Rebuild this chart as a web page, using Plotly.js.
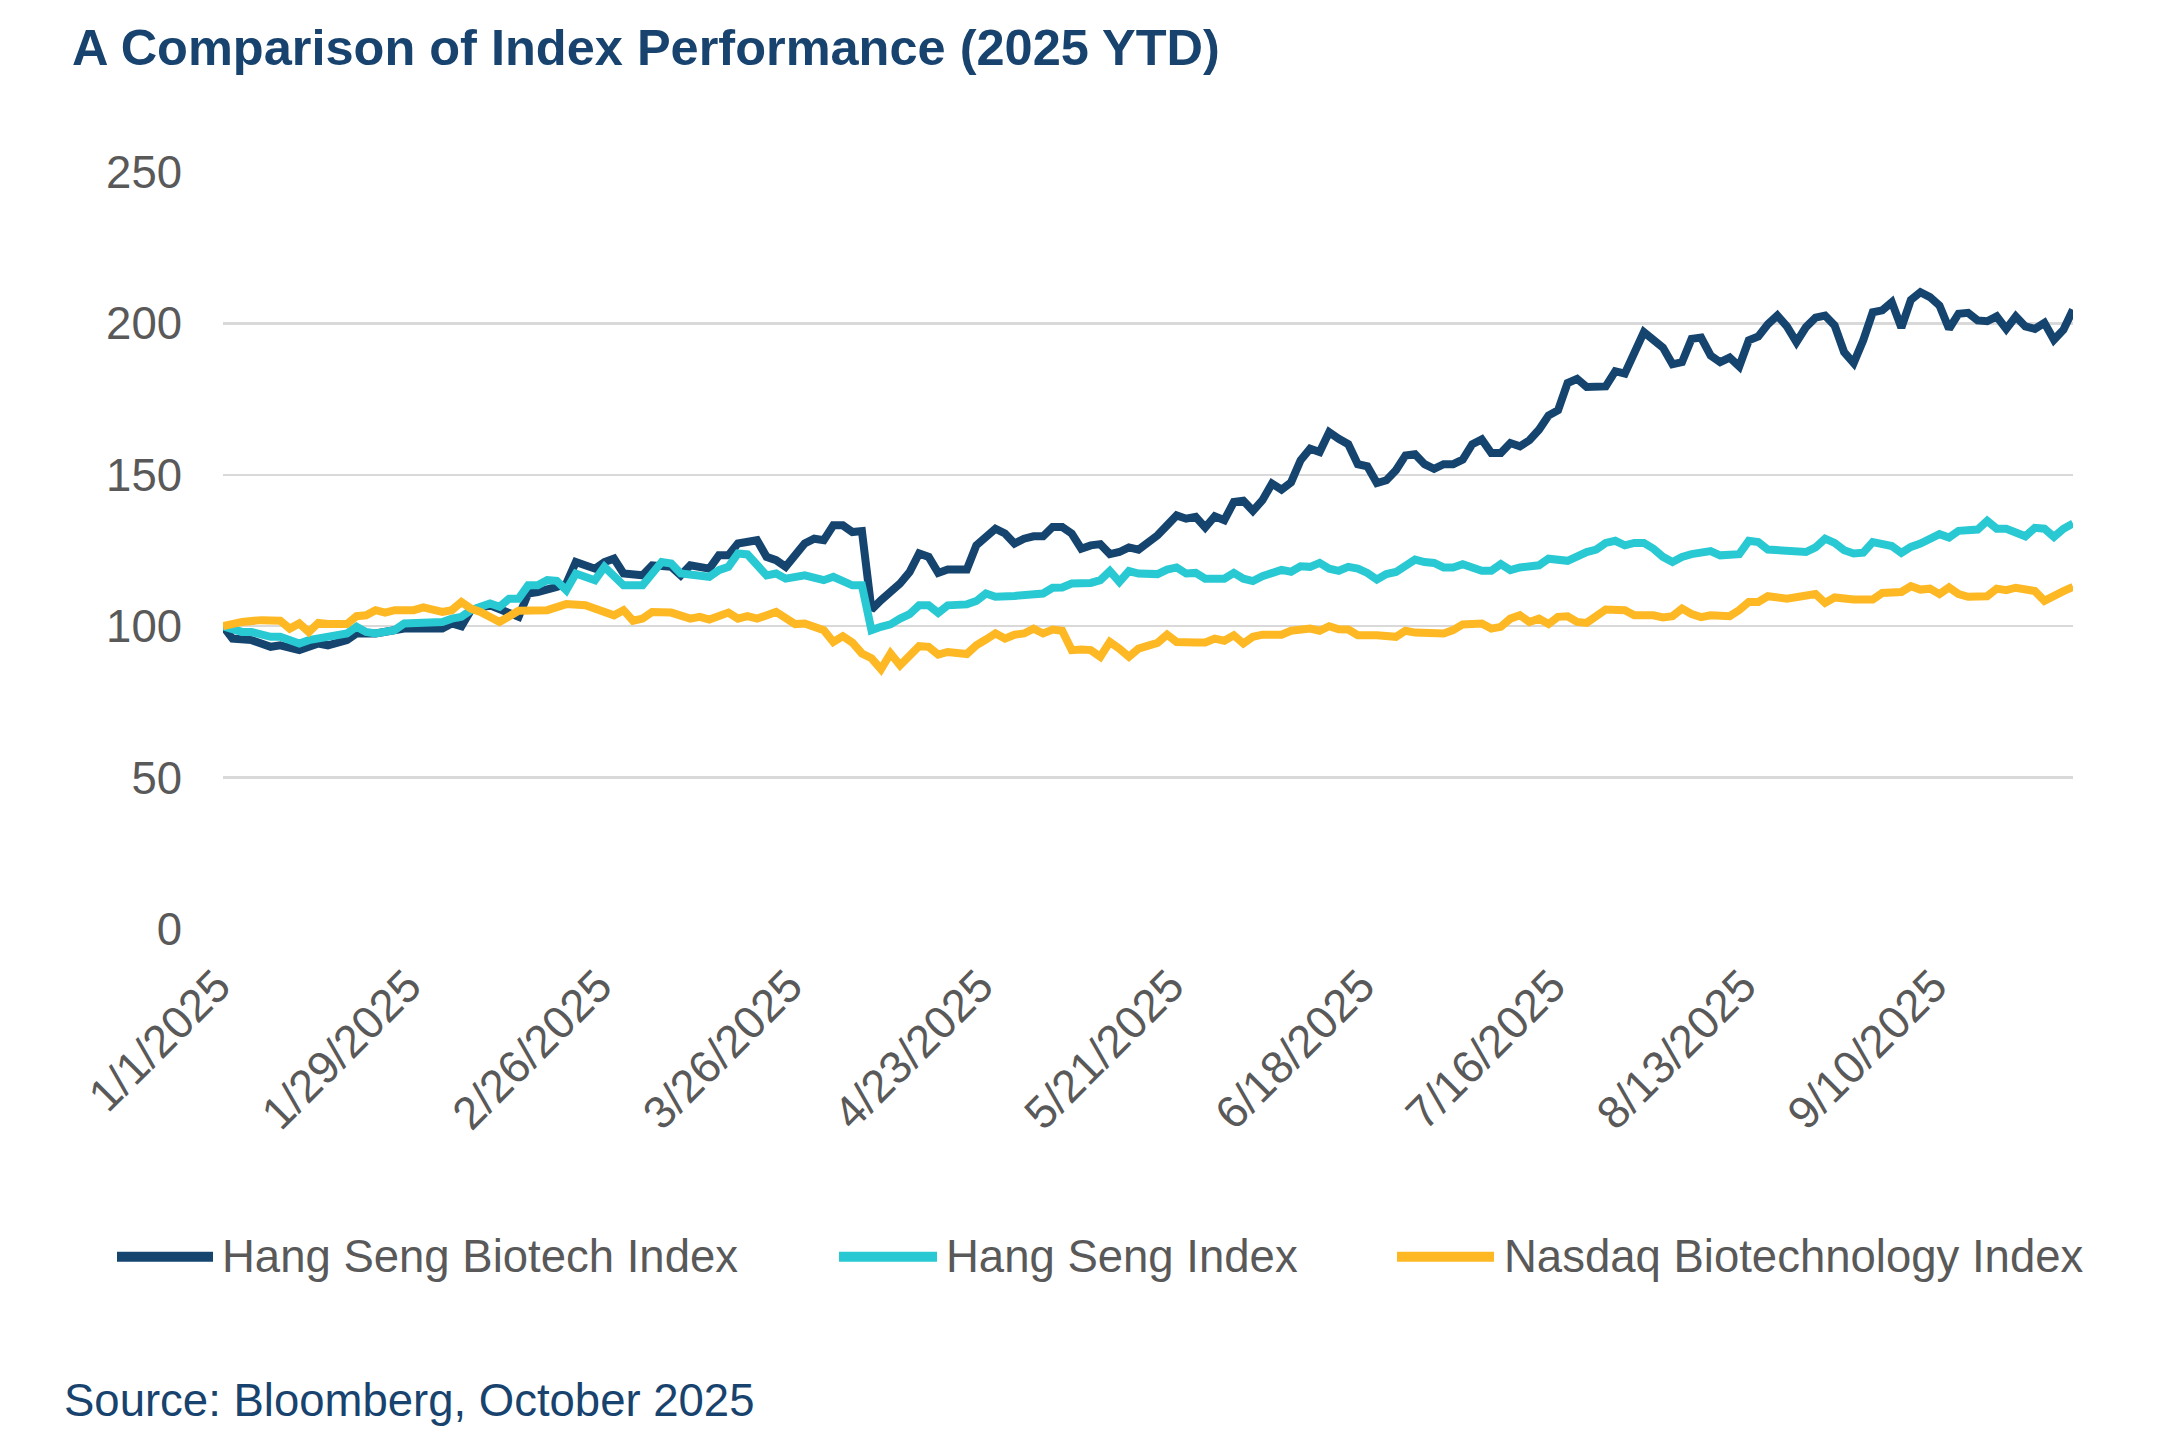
<!DOCTYPE html>
<html>
<head>
<meta charset="utf-8">
<script src="https://cdn.plot.ly/plotly-3.0.1.min.js"></script>
<style>
html,body{margin:0;padding:0;background:#ffffff;}
#chart{width:2174px;height:1455px;}
</style>
</head>
<body>
<div id="chart"></div>
<script>
// ---------------- DATA ----------------
const YEAR = '2025-';
const seriesNames = ['Hang Seng Biotech Index', 'Hang Seng Index', 'Nasdaq Biotechnology Index'];
const tickDates = ['2025-01-01','2025-01-29','2025-02-26','2025-03-26','2025-04-23','2025-05-21','2025-06-18','2025-07-16','2025-08-13','2025-09-10'];
const tickLabels = ['1/1/2025','1/29/2025','2/26/2025','3/26/2025','4/23/2025','5/21/2025','6/18/2025','7/16/2025','8/13/2025','9/10/2025'];
const yTicks = [0, 50, 100, 150, 200, 250];

// Hang Seng Biotech Index
const hsbioDates = [
 '01-01','01-02','01-06','01-08','01-09','01-13','01-15','01-16','01-20','01-21','01-23','01-24','01-28',
 '02-03','02-04','02-05','02-06','02-10','02-12','02-13','02-14','02-17','02-19','02-20','02-21','02-25','02-26','02-27','02-28',
 '03-04','03-05','03-07','03-10','03-11','03-13','03-14','03-17','03-18','03-20','03-21','03-24','03-25','03-27','03-28','03-31',
 '04-01','04-02','04-03','04-04','04-07','04-08','04-09','04-10','04-11','04-14','04-15','04-16','04-17','04-21','04-22','04-23','04-24','04-25','04-28','04-29','04-30',
 '05-01','05-02','05-05','05-06','05-07','05-08','05-09','05-12','05-13','05-14','05-15','05-16','05-19','05-20','05-21','05-22','05-23','05-26','05-27','05-28','05-29','05-30',
 '06-02','06-03','06-04','06-05','06-06','06-09','06-10','06-11','06-12','06-13','06-16','06-17','06-18','06-19','06-20','06-23','06-24','06-25','06-26','06-27','06-30',
 '07-01','07-02','07-03','07-04','07-07','07-08','07-09','07-10','07-11','07-14','07-15','07-16','07-17','07-18','07-21','07-23','07-24','07-25','07-29','07-31',
 '08-01','08-04','08-05','08-06','08-07','08-08','08-11','08-12','08-13','08-14','08-15','08-18','08-19','08-20','08-21','08-22','08-25','08-26','08-27','08-28','08-29',
 '09-01','09-02','09-03','09-04','09-05','09-08','09-09','09-10','09-11','09-12','09-15','09-16','09-17','09-18','09-19','09-22','09-23','09-24','09-25','09-26','09-29','09-30'
];
const hsbioValues = [
 100,95.9,95.4,93.2,93.7,92.1,94.3,93.7,95.4,97.6,97.6,98.1,99.2,
 99.2,100.9,100,105.3,106.9,104.2,103.1,110.8,111.3,113,114.1,121.2,119,121.2,122.3,117.4,
 116.8,120.1,119.6,116.8,120.1,119,123.4,123.4,127.3,128.4,122.9,121.8,119.6,127.3,128.9,128.4,
 133.3,133.3,131.1,131.4,105.5,108.6,111.3,114.1,117.9,124,122.9,117.6,118.7,118.7,126.7,129.5,132.2,130.6,127.3,128.9,129.7,
 129.7,132.8,132.8,130.6,125.6,126.7,127.1,123.8,124.5,126,125.3,127.3,130,133.3,136.6,135.5,136.1,132.6,136.3,135,141,141.4,
 138.1,141.6,147.1,145.1,147.5,154.8,158.6,157.5,164.1,161.9,160.1,153.5,152.8,147.3,148.2,151.5,156.4,156.8,153.5,152,153.5,
 153.5,155,160.1,161.7,157.2,157.2,160.5,159.4,161.4,164.9,169.6,171.3,180.3,181.7,179,179.2,184.2,183.4,197.1,192,
 186.5,187.2,194.9,195.3,189.4,187.2,188.7,185.8,194.4,195.7,199.7,202.6,199,193.8,198.8,201.9,202.6,199.3,190.5,186.9,194.4,
 203.7,204.3,207,198.6,207.8,210.3,208.7,205.9,198.2,203.2,203.5,201,200.7,202.3,198.2,202.3,199,198.2,200.2,194.6,197.9,204.5
];

// Hang Seng Index
const hsiDates = [
 '01-01','01-03','01-06','01-08','01-09','01-13','01-14','01-16','01-20','01-21','01-22','01-23','01-27','01-28',
 '02-03','02-04','02-05','02-06','02-10','02-11','02-12','02-13','02-14','02-17','02-18','02-19','02-20','02-21','02-24','02-25','02-26','02-28',
 '03-04','03-06','03-07','03-10','03-13','03-14','03-17','03-18','03-19','03-21','03-24','03-25','03-27','03-31',
 '04-01','04-03','04-04','04-07','04-08','04-09','04-10','04-11','04-14','04-15','04-16','04-17','04-21','04-22','04-23','04-24','04-28',
 '05-01','05-02','05-05','05-06','05-08','05-09','05-12','05-13','05-14','05-15','05-19','05-20','05-21','05-22','05-23','05-26','05-28','05-29','05-30',
 '06-02','06-03','06-05','06-06','06-09','06-10','06-11','06-12','06-13','06-16','06-17','06-18','06-19','06-20','06-23','06-24','06-25','06-26','06-27','06-30',
 '07-01','07-02','07-03','07-04','07-07','07-08','07-09','07-10','07-14','07-15','07-17','07-18','07-21','07-22','07-23','07-24','07-25','07-28','07-29','07-30','07-31',
 '08-01','08-04','08-05','08-06','08-07','08-08','08-12','08-13','08-14','08-15','08-19','08-21','08-22','08-25','08-26','08-27','08-28','08-29',
 '09-01','09-03','09-04','09-05','09-08','09-10','09-11','09-12','09-16','09-17','09-18','09-19','09-23','09-24','09-25','09-26','09-29','09-30'
];
const hsiValues = [
 100,98.1,98.1,96.5,96.5,94.3,95.4,96.5,97.6,99.8,98.1,97.6,98.7,100.9,
 101.4,102.5,103.1,105.3,107.5,106.4,109.1,109.1,113.5,113.5,115.2,115,111.9,117.4,116.5,115.2,119.6,113.5,
 113.5,121.2,120.7,117.4,116.3,118.5,119.6,124,123.7,116.8,117.4,115.7,116.8,115.2,
 116.3,113.5,113.5,98.7,99.8,100.6,102.5,104,106.9,106.9,104.4,106.9,107.2,108.3,110.8,109.7,110,
 110.8,112.7,112.8,114.1,114.3,115.2,118.2,114.6,118.2,117.4,117.2,118.7,119.4,117.4,117.6,115.7,115.7,117.6,115.7,
 114.9,116.5,118.6,118,119.8,119.6,120.9,119,118.3,119.6,119,117.6,115.4,117.2,117.9,120.1,122,121.2,120.9,119.4,
 119.4,120.5,119.6,118.3,118.3,120.5,118.5,119.4,120.1,122.3,121.6,123.4,124.5,125.3,127.5,128.2,126.7,127.5,127.5,125.6,122.9,
 121.2,122.9,123.8,124,124.8,123.4,123.8,128.2,127.8,125.3,124.8,124.5,126,128.9,127.5,125.1,124,124.3,
 127.8,126.5,124.2,126.2,127.3,130.4,129.3,131.5,131.9,134.8,132.2,132.2,129.7,132.5,132.2,129.5,132.2,133.9
];

// Nasdaq Biotechnology Index
const nbiDates = [
 '01-01','01-03','01-07','01-09','01-10','01-13','01-14','01-15','01-16','01-20','01-21','01-22','01-23','01-24','01-27','01-29','01-30',
 '02-03','02-04','02-05','02-06','02-07','02-11','02-13','02-18','02-20','02-24','02-27','02-28',
 '03-03','03-04','03-05','03-07','03-11','03-12','03-13','03-17','03-18','03-19','03-20','03-24','03-26','03-27','03-31',
 '04-01','04-02','04-03','04-04','04-07','04-08','04-09','04-10','04-14','04-15','04-16','04-17','04-21','04-22','04-23','04-24','04-25','04-28','04-29','04-30',
 '05-01','05-02','05-05','05-06','05-07','05-08','05-09','05-12','05-13','05-14','05-15','05-19','05-20','05-21','05-23','05-26','05-27','05-28','05-29','05-30',
 '06-02','06-03','06-05','06-06','06-10','06-11','06-12','06-13','06-16','06-17','06-19','06-23','06-24','06-25','06-30',
 '07-01','07-02','07-04','07-07','07-08','07-09','07-10','07-11','07-14','07-15','07-16','07-17','07-18','07-21','07-22','07-23','07-25','07-28','07-30','07-31',
 '08-01','08-04','08-05','08-06','08-07','08-11','08-12','08-13','08-14','08-15','08-19','08-21','08-22','08-25','08-26','08-28',
 '09-01','09-02','09-04','09-05','09-08','09-09','09-10','09-11','09-12','09-15','09-17','09-18','09-19','09-22','09-23','09-24','09-25','09-26','09-29','09-30'
];
const nbiValues = [
 100,101.4,102,101.8,99.2,100.9,98.1,101.1,100.7,100.7,103.3,103.6,105.3,104.5,105.3,105.3,106.2,
 104.7,105.3,108,105.8,104.7,101.4,105.1,105.3,107.3,106.9,103.6,105.3,
 101.8,102.5,104.7,104.5,102.5,103.1,102.2,104.5,102.5,103.3,102.5,104.7,100.7,100.9,98.7,
 94.8,96.7,94.6,91,89.4,85.8,91,87.1,93.4,93.2,90.6,91.5,90.8,93.7,95.6,97.6,95.9,97.2,97.6,99.2,
 97.6,98.9,98.5,92.1,92.3,92.1,89.9,94.8,92.6,89.9,92.6,94.5,97.2,94.8,94.6,94.6,95.9,95.2,97,94.3,
 96.5,97.2,97.2,98.5,99.2,98.5,100,99,98.9,97,97,96.5,98.5,97.9,97.6,
 98.7,100.6,100.9,99.2,99.8,102.5,103.6,101.4,102.5,100.7,103.1,103.3,101.4,101.1,103.6,105.5,105.3,103.6,103.6,102.9,
 103.3,105.8,104,103,103.6,103.3,105.3,108,108,109.9,109.1,110.2,110.6,107.7,109.5,108.8,
 108.8,111,111.3,113.2,112.1,112.4,110.6,112.8,110.6,109.7,109.9,112.4,111.9,112.7,111.9,111.6,108.4,110.2,111.6,113
];

const seriesColors = ['#15446f', '#29c9d3', '#fdb823'];

// ---------------- LAYOUT ----------------
const W = 2174, H = 1455;
const M = {l: 223, r: 101, t: 172, b: 525.5};
const PW = W - M.l - M.r, PH = H - M.t - M.b;
const px2x = px => (px - M.l) / PW;
const py2y = py => (H - M.b - py) / PH;
const FONT = 'Liberation Sans, Arial, Helvetica, sans-serif';
const NAVY_TEXT = '#17436e';
const GREY_TEXT = '#595959';

const full = arr => arr.map(d => YEAR + d);

const traces = [
  {x: full(hsbioDates), y: hsbioValues, name: seriesNames[0]},
  {x: full(hsiDates), y: hsiValues, name: seriesNames[1]},
  {x: full(nbiDates), y: nbiValues, name: seriesNames[2]}
].map((t, k) => Object.assign(t, {
  type: 'scatter', mode: 'lines',
  line: {color: seriesColors[k], width: 8, shape: 'linear'},
  hoverinfo: 'skip', showlegend: false
}));

// custom legend (long line samples like the original)
const legendItems = [
  {x0: 117, x1: 213, tx: 220},
  {x0: 839, x1: 937, tx: 944},
  {x0: 1397, x1: 1494, tx: 1502}
];
const legendY = 1257.5;
const shapes = legendItems.map((it, k) => ({
  type: 'line', xref: 'paper', yref: 'paper',
  x0: px2x(it.x0), x1: px2x(it.x1), y0: py2y(legendY), y1: py2y(legendY),
  line: {color: seriesColors[k], width: 10}
}));
const annotations = legendItems.map((it, k) => ({
  xref: 'paper', yref: 'paper', x: px2x(it.tx), y: py2y(legendY),
  xanchor: 'left', yanchor: 'middle', showarrow: false,
  text: seriesNames[k], font: {family: FONT, size: 45.5, color: GREY_TEXT}
}));
annotations.push({
  xref: 'paper', yref: 'paper', x: px2x(62), y: py2y(1401),
  xanchor: 'left', yanchor: 'middle', showarrow: false,
  text: 'Source: Bloomberg, October 2025',
  font: {family: FONT, size: 45.5, color: NAVY_TEXT}
});

const layout = {
  width: W, height: H,
  margin: {l: M.l, r: M.r, t: M.t, b: M.b, pad: 0},
  paper_bgcolor: '#ffffff', plot_bgcolor: '#ffffff',
  font: {family: FONT, color: GREY_TEXT},
  title: {
    text: 'A Comparison of Index Performance (2025 YTD)',
    font: {family: FONT, size: 50.5, color: NAVY_TEXT, weight: 'bold'},
    xref: 'container', yref: 'container',
    x: 72 / W, xanchor: 'left',
    y: 1 - 47 / H, yanchor: 'middle'
  },
  showlegend: false,
  xaxis: {
    type: 'date',
    range: ['2025-01-01', '2025-09-30'],
    rangebreaks: [{bounds: ['sat', 'mon']}],
    tickmode: 'array', tickvals: tickDates, ticktext: tickLabels,
    tickangle: -45,
    tickfont: {family: FONT, size: 45.5, color: GREY_TEXT},
    showgrid: false, zeroline: false, showline: false,
    ticks: '', ticklabelstandoff: 20, ticklabelshift: -6,
    automargin: false, fixedrange: true
  },
  yaxis: {
    range: [0, 250],
    tickmode: 'array', tickvals: yTicks,
    tickfont: {family: FONT, size: 45.5, color: GREY_TEXT},
    showgrid: true, gridcolor: '#d9d9d9', gridwidth: 2.5,
    zeroline: false, showline: false,
    ticks: '', ticklabelstandoff: 40,
    automargin: false, fixedrange: true
  },
  shapes: shapes,
  annotations: annotations
};

Plotly.newPlot('chart', traces, layout, {staticPlot: true, displayModeBar: false});
</script>
</body>
</html>
